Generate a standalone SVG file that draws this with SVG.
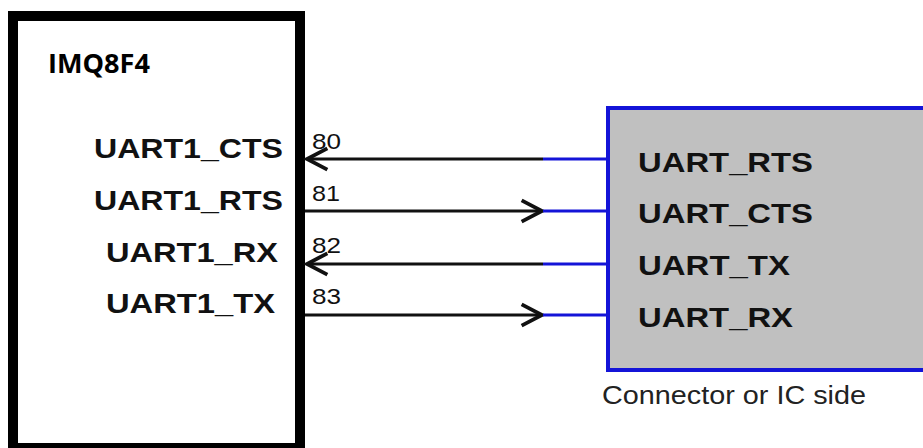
<svg xmlns="http://www.w3.org/2000/svg" width="923" height="448" viewBox="0 0 923 448">
<style>
.lbl{font-family:"Liberation Sans",Arial,sans-serif;font-weight:bold;font-size:28px;fill:#111}
.num{font-family:"Liberation Sans",Arial,sans-serif;font-size:22px;fill:#111}
.cap{font-family:"Liberation Sans",Arial,sans-serif;font-size:25px;fill:#222}
.title{font-family:"Open Sans","Liberation Sans",sans-serif;font-weight:bold;font-size:27px;fill:#000}
.wire{stroke:#111;stroke-width:3;fill:none}
.bwire{stroke:#1414d8;stroke-width:3;fill:none}
</style>
<defs>
<marker id="arr" markerUnits="userSpaceOnUse" markerWidth="30" markerHeight="30" viewBox="-24 -14 28 28" refX="0" refY="0" orient="auto" overflow="visible">
<path d="M-19,-10 L0,0 L-19,10" fill="none" stroke="#111" stroke-width="3.5"/>
</marker>
</defs>
<rect width="923" height="448" fill="#fff"/>
<g id="imq8f4">
<rect x="13" y="16" width="287" height="432" fill="#fff" stroke="#000" stroke-width="10"/>
<text class="title" x="48" y="73" textLength="102" lengthAdjust="spacingAndGlyphs">IMQ8F4</text>
<text class="lbl" x="94" y="158" textLength="189" lengthAdjust="spacingAndGlyphs">UART1_CTS</text>
<text class="lbl" x="94" y="210" textLength="189" lengthAdjust="spacingAndGlyphs">UART1_RTS</text>
<text class="lbl" x="106" y="262" textLength="172" lengthAdjust="spacingAndGlyphs">UART1_RX</text>
<text class="lbl" x="106" y="313" textLength="169" lengthAdjust="spacingAndGlyphs">UART1_TX</text>
</g>
<g id="connector">
<rect x="608" y="108" width="330" height="262" fill="#c0c0c0" stroke="#1414d8" stroke-width="4"/>
<text class="lbl" x="638" y="172" textLength="175" lengthAdjust="spacingAndGlyphs">UART_RTS</text>
<text class="lbl" x="638" y="223" textLength="175" lengthAdjust="spacingAndGlyphs">UART_CTS</text>
<text class="lbl" x="638" y="275" textLength="152" lengthAdjust="spacingAndGlyphs">UART_TX</text>
<text class="lbl" x="638" y="327" textLength="155" lengthAdjust="spacingAndGlyphs">UART_RX</text>
<text class="cap" x="602" y="404" textLength="264" lengthAdjust="spacingAndGlyphs">Connector or IC side</text>
</g>
<g id="connectors">
<path class="wire" d="M543,159 L307,159" marker-end="url(#arr)"/>
<line class="bwire" x1="543" y1="159" x2="608" y2="159"/>
<text class="num" x="312" y="149" textLength="29" lengthAdjust="spacingAndGlyphs">80</text>
<path class="wire" d="M305,211 L542,211" marker-end="url(#arr)"/>
<line class="bwire" x1="543" y1="211" x2="608" y2="211"/>
<text class="num" x="312" y="201" textLength="28" lengthAdjust="spacingAndGlyphs">81</text>
<path class="wire" d="M543,264 L307,264" marker-end="url(#arr)"/>
<line class="bwire" x1="543" y1="264" x2="608" y2="264"/>
<text class="num" x="312" y="253" textLength="29" lengthAdjust="spacingAndGlyphs">82</text>
<path class="wire" d="M305,315 L542,315" marker-end="url(#arr)"/>
<line class="bwire" x1="543" y1="315" x2="608" y2="315"/>
<text class="num" x="312" y="304" textLength="29" lengthAdjust="spacingAndGlyphs">83</text>
</g>
</svg>
